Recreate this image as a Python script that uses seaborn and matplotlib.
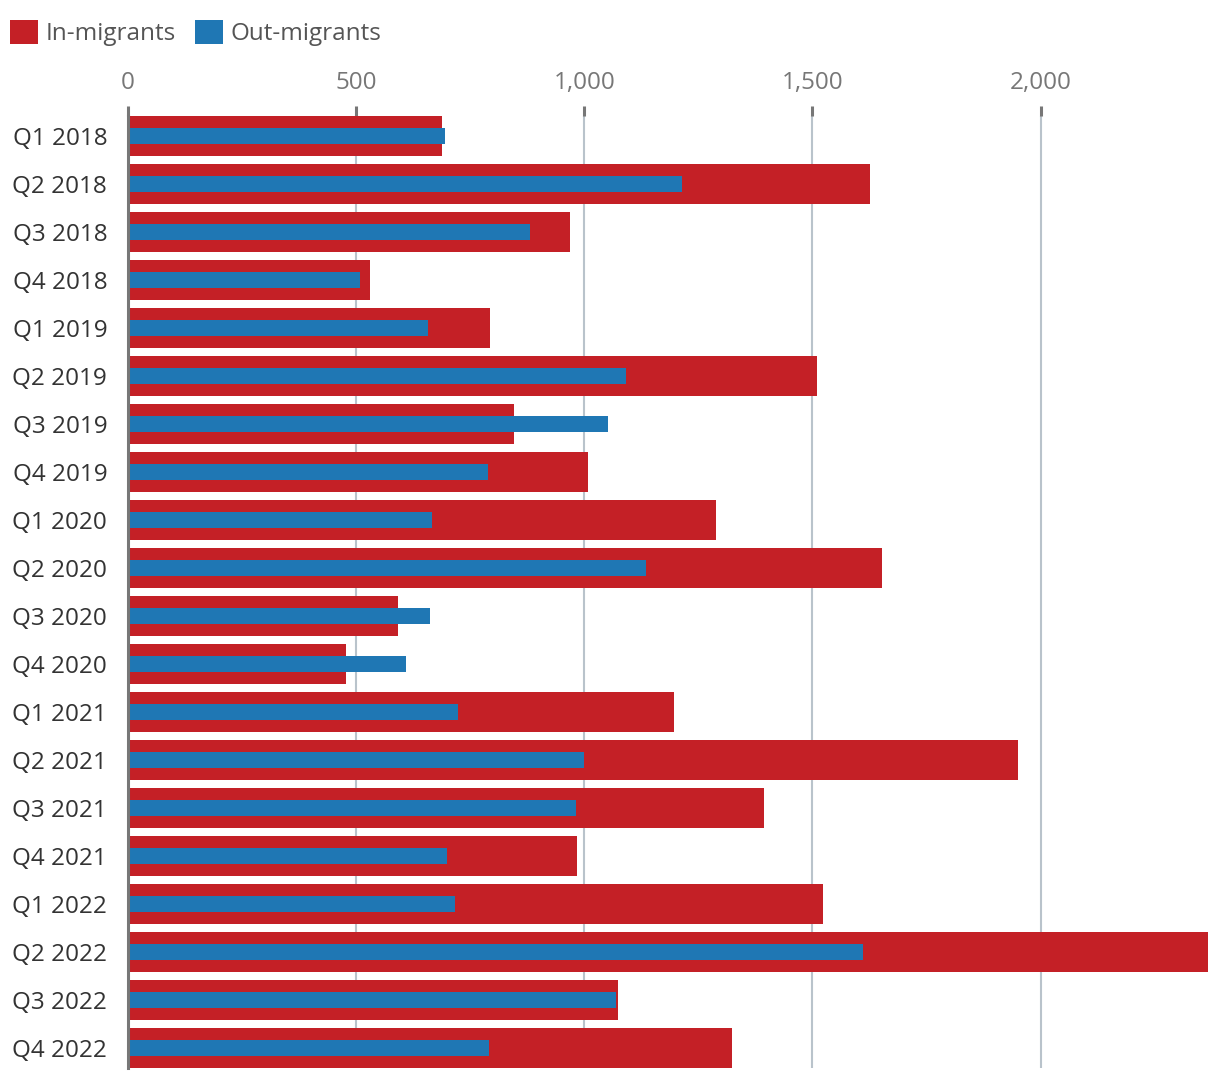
import matplotlib
matplotlib.use("Agg")
import matplotlib.pyplot as plt
import seaborn as sns
import pandas as pd
from matplotlib.patches import Patch
from matplotlib.ticker import FuncFormatter

quarters = ["Q1 2018", "Q2 2018", "Q3 2018", "Q4 2018",
            "Q1 2019", "Q2 2019", "Q3 2019", "Q4 2019",
            "Q1 2020", "Q2 2020", "Q3 2020", "Q4 2020",
            "Q1 2021", "Q2 2021", "Q3 2021", "Q4 2021",
            "Q1 2022", "Q2 2022", "Q3 2022", "Q4 2022"]
in_migrants = [689, 1627, 969, 531, 794, 1509, 847, 1009, 1289, 1653,
               592, 478, 1196, 1950, 1394, 983, 1524, 2367, 1075, 1323]
out_migrants = [694, 1215, 882, 509, 658, 1092, 1053, 789, 667, 1136,
                662, 610, 723, 1000, 982, 700, 717, 1611, 1070, 791]
x_ticks = [0, 500, 1000, 1500, 2000]
series_names = ["In-migrants", "Out-migrants"]

RED = "#c42026"
BLUE = "#1f77b4"

sns.set_style("white")
plt.rcParams["font.family"] = ["Open Sans", "DejaVu Sans"]

df = pd.DataFrame({"quarter": quarters, "in": in_migrants, "out": out_migrants})

fig = plt.figure(figsize=(12.2, 10.8), dpi=100)
ax = fig.add_axes([128 / 1220, 12 / 1080, (1208 - 128) / 1220, (1068 - 116) / 1080])

sns.barplot(data=df, y="quarter", x="in", color=RED, width=0.8333,
            orient="h", ax=ax, saturation=1, linewidth=0, zorder=2)
sns.barplot(data=df, y="quarter", x="out", color=BLUE, width=0.3333,
            orient="h", ax=ax, saturation=1, linewidth=0, zorder=3)

n = len(quarters)
ax.set_ylim(n - 1 + 0.4167, -0.4167)
ax.set_xlim(0, max(in_migrants))
ax.set_xlabel("")
ax.set_ylabel("")

ax.set_xticks(x_ticks)
ax.xaxis.set_major_formatter(FuncFormatter(lambda v, p: f"{int(v):,}"))
ax.xaxis.tick_top()
ax.tick_params(axis="x", top=True, bottom=False, labeltop=True, labelbottom=False,
               length=7.2, width=2.2, color="#777777", labelcolor="#777777",
               labelsize=17.5, pad=8)
ax.tick_params(axis="y", left=False, length=0, labelcolor="#333333",
               labelsize=17.5, pad=15)

ax.grid(axis="x", color="#b9c3cb", linewidth=1.5, zorder=0)
ax.grid(axis="y", visible=False)
ax.set_axisbelow(True)
for s in ["top", "right", "bottom"]:
    ax.spines[s].set_visible(False)
ax.spines["left"].set_color("#777777")
ax.spines["left"].set_linewidth(2.2)
ax.spines["left"].set_zorder(5)

handles = [Patch(facecolor=RED, edgecolor="none", label=series_names[0]),
           Patch(facecolor=BLUE, edgecolor="none", label=series_names[1])]
fig.legend(handles=handles, loc="upper left", bbox_to_anchor=(10 / 1220, 1 - 20 / 1080),
           ncol=2, frameon=False, fontsize=17.5, handlelength=1.15, handleheight=1.15,
           handletextpad=0.3, columnspacing=0.8, borderpad=0, borderaxespad=0,
           labelcolor="#555555")

fig.savefig("out.png", dpi=100)
